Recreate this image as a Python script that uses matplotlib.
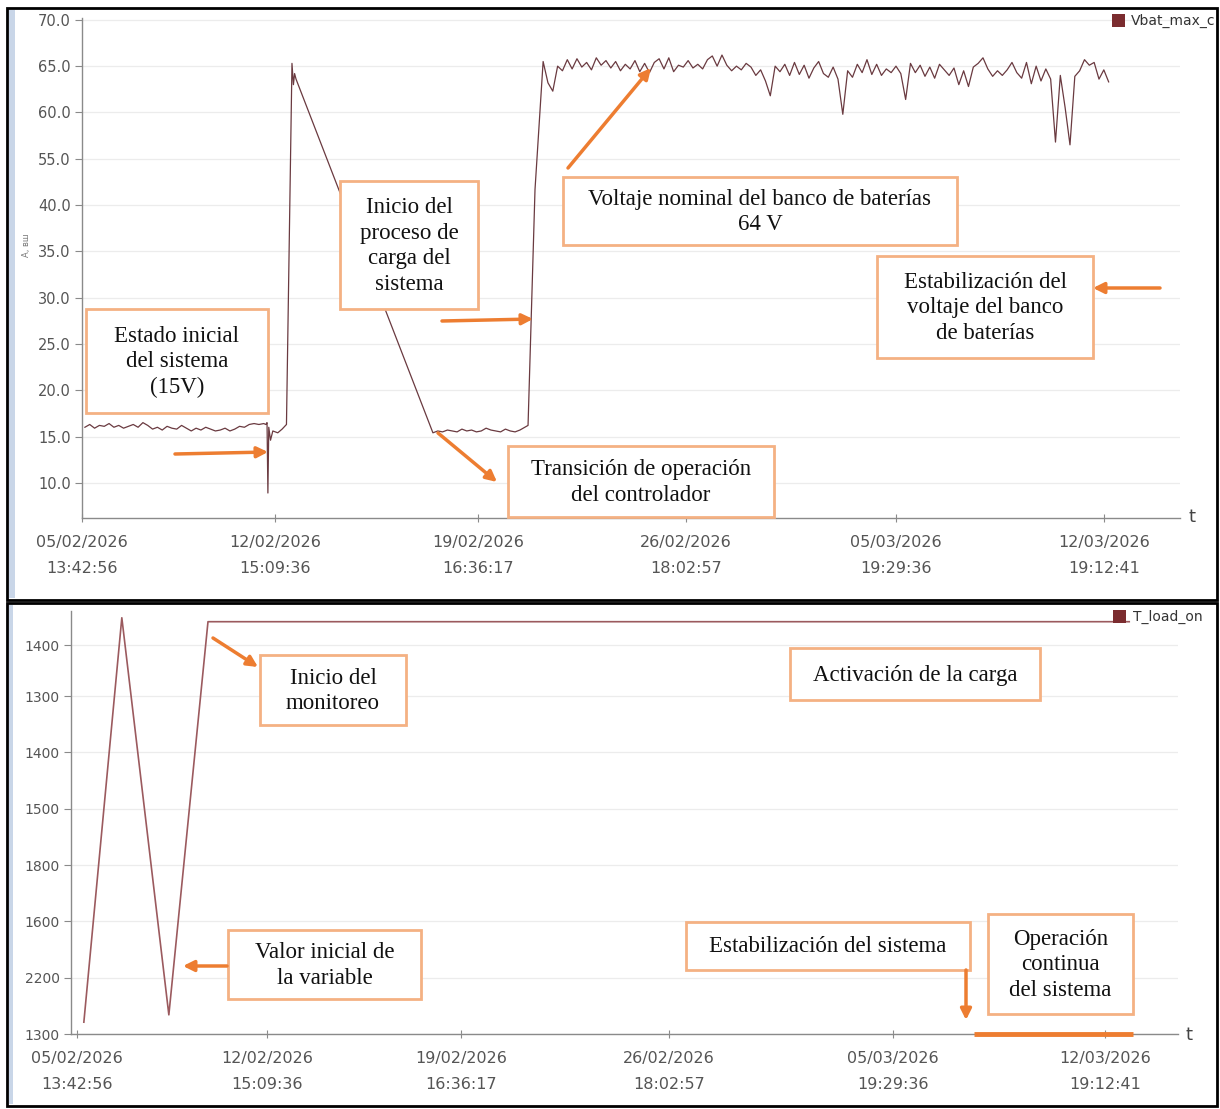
import numpy as np
import matplotlib
matplotlib.use("Agg")
import matplotlib.pyplot as plt
from matplotlib.patches import Rectangle

# ---------------- DATA ----------------
# Top panel: Vbat_max (V), time in days since 05/02/2026 13:42:56
top_xtick_labels = ["05/02/2026\n13:42:56", "12/02/2026\n15:09:36", "19/02/2026\n16:36:17",
                    "26/02/2026\n18:02:57", "05/03/2026\n19:29:36", "12/03/2026\n19:12:41"]
top_xtick_days = [0.0, 6.66, 13.66, 20.83, 28.07, 35.24]
top_ytick_values = [70, 65, 60, 55, 40, 35, 30, 25, 20, 15, 10]
top_ytick_labels = ["70.0", "65.0", "60.0", "55.0", "40.0", "35.0", "30.0", "25.0", "20.0", "15.0", "10.0"]

sample_step_days = 1.0 / 6.0   # logger sample every 4 h

seg1_start = 0.10
seg1_vals = [16.0, 16.3, 15.9, 16.2, 16.1, 16.4, 16.0, 16.2, 15.9, 16.1, 16.3, 16.0, 16.5, 16.2,
             15.8, 16.0, 15.7, 16.1, 15.9, 15.8, 16.2, 15.9, 15.6, 15.9, 15.7, 16.0, 15.8, 15.6,
             15.7, 15.9, 15.6, 15.8, 16.1, 16.0, 16.3, 16.4, 16.3, 16.4]

event_days = [6.34, 6.38, 6.41, 6.44, 6.50, 6.58, 6.75, 6.90, 7.05, 7.24, 7.29, 7.33, 7.38, 12.10]
event_vals = [16.3, 16.5, 8.9, 16.0, 14.6, 15.6, 15.4, 15.8, 16.3, 65.3, 63.0, 64.2, 63.6, 15.4]

seg2_start = 12.10
seg2_vals = [15.4, 15.6, 15.5, 15.7, 15.6, 15.5, 15.8, 15.6, 15.7, 15.5, 15.6, 15.9, 15.7, 15.6,
             15.5, 15.8, 15.6, 15.5, 15.7, 16.0]

rise_days = [15.38, 15.62]
rise_vals = [16.2, 45.0]

seg3_start = 15.90
seg3_vals = [65.5, 63.2, 62.3, 65.0, 64.5, 65.7, 64.7, 65.8, 64.9, 65.4, 64.6, 65.9, 65.1, 65.6,
             64.8, 65.5, 64.5, 65.2, 64.7, 65.6, 64.4, 65.3, 64.3, 65.4, 65.8, 64.7, 65.9, 64.4,
             65.1, 64.9, 65.6, 64.8, 65.2, 64.7, 65.7, 66.1, 65.0, 66.2, 65.1, 64.5, 65.0, 64.6,
             65.3, 64.9, 64.0, 64.6, 63.4, 61.8, 65.0, 64.4, 65.2, 64.0, 65.4, 64.1, 65.1, 63.7,
             64.8, 65.5, 64.2, 63.8, 64.9, 63.6, 59.8, 64.5, 63.8, 65.2, 64.3, 65.7, 64.1, 65.2,
             64.0, 64.7, 64.3, 65.0, 64.2, 61.4, 65.3, 64.3, 65.1, 63.9, 64.9, 63.7, 65.2, 64.6,
             64.0, 64.8, 63.0, 64.5, 62.8, 64.9, 65.3, 65.9, 64.7, 63.9, 64.5, 64.0, 64.6, 65.4,
             64.3, 63.7, 65.4, 63.1, 65.0, 63.4, 64.7, 63.6, 56.8, 64.0, 60.5, 56.5, 63.9, 64.5,
             65.7, 65.1, 65.4, 63.6, 64.6, 63.3]

# Bottom panel: T_load_on (axis level units), time in days
bot_xtick_labels = top_xtick_labels
bot_xtick_days = [0.0, 6.51, 13.15, 20.27, 27.95, 35.21]
bot_ytick_levels = [0, 1, 2, 3, 4, 5, 6, 6.9]
bot_ytick_labels = ["1300", "2200", "1600", "1800", "1500", "1400", "1300", "1400"]
bot_days = [0.24, 1.54, 3.15, 4.49, 36.03]
bot_vals = [0.21, 7.39, 0.34, 7.32, 7.32]

# ---------------- BUILD SERIES ----------------
def seg(start, vals):
    return [start + i * sample_step_days for i in range(len(vals))]

top_t = seg(seg1_start, seg1_vals) + event_days + seg(seg2_start, seg2_vals)[1:] + rise_days + seg(seg3_start, seg3_vals)
top_v = seg1_vals + event_vals + seg2_vals[1:] + rise_vals + seg3_vals

# piecewise scale matching the labelled ticks (55 -> 40 gap)
_kv = [-100.0, 40.0, 55.0, 200.0]
_kp = [-100.0, 40.0, 45.0, 190.0]
def fwd(v):
    return np.interp(v, _kv, _kp)
def inv(p):
    return np.interp(p, _kp, _kv)

# ---------------- FIGURE ----------------
W, H = 1220, 1109
fig = plt.figure(figsize=(W / 100, H / 100), dpi=100)
fig.patch.set_facecolor("white")

tick_col = "#555555"
spine_col = "#8a8a8a"
grid_col = "#ececec"

def px_axes(x0, y0, x1, y1):
    return fig.add_axes([x0 / W, 1 - y1 / H, (x1 - x0) / W, (y1 - y0) / H])

def style(ax):
    for s in ["top", "right"]:
        ax.spines[s].set_visible(False)
    for s in ["left", "bottom"]:
        ax.spines[s].set_color(spine_col)
        ax.spines[s].set_linewidth(1.0)
    ax.tick_params(axis="y", colors=spine_col, labelcolor=tick_col, length=5, direction="out", pad=3)
    ax.tick_params(axis="x", colors=spine_col, labelcolor=tick_col, length=6, direction="inout", pad=9)
    ax.grid(axis="y", color=grid_col, lw=0.9)
    ax.set_axisbelow(True)

# top axes
ax1 = px_axes(82, 18, 1180, 518)
ax1.set_yscale("function", functions=(fwd, inv))
ax1.plot(top_t, top_v, color="#6a3a40", lw=0.9)
ax1.set_xlim(0, 37.86)
ax1.set_ylim(6.2, 70.2)
ax1.set_yticks(top_ytick_values)
ax1.set_yticklabels(top_ytick_labels, fontsize=10.5)
ax1.yaxis.set_minor_locator(matplotlib.ticker.NullLocator())
ax1.set_xticks(top_xtick_days)
ax1.set_xticklabels(top_xtick_labels, fontsize=11.5, linespacing=1.95)
style(ax1)

# bottom axes
ax2 = px_axes(71, 611, 1178, 1034)
ax2.plot(bot_days, bot_vals, color="#9b5a5e", lw=1.2)
ax2.set_xlim(-0.2, 37.7)
ax2.set_ylim(0, 7.51)
ax2.set_yticks(bot_ytick_levels)
ax2.set_yticklabels(bot_ytick_labels, fontsize=10)
ax2.set_xticks(bot_xtick_days)
ax2.set_xticklabels(bot_xtick_labels, fontsize=11.5, linespacing=1.95)
style(ax2)

# ---------------- OVERLAY (pixel coordinates) ----------------
ov = fig.add_axes([0, 0, 1, 1], zorder=10)
ov.set_xlim(0, W)
ov.set_ylim(H, 0)
ov.axis("off")
ov.patch.set_alpha(0)

# frames
ov.add_patch(Rectangle((7, 8), 1210, 592, fill=False, ec="black", lw=2))
ov.add_patch(Rectangle((7, 603), 1210, 503, fill=False, ec="black", lw=2))
ov.add_patch(Rectangle((9, 10), 6, 588, fc="#c9d6e8", ec="none"))
ov.add_patch(Rectangle((9, 605), 4, 499, fc="#c9d6e8", ec="none"))

# legends
ov.add_patch(Rectangle((1112, 14), 13, 13, fc="#7b2c2f", ec="none"))
ov.text(1131, 21, "Vbat_max_c", fontsize=10, color="#333333", va="center", ha="left", clip_on=True)
ov.add_patch(Rectangle((1113, 610), 13, 13, fc="#7b2c2f", ec="none"))
ov.text(1133, 617, "T_load_on", fontsize=10, color="#333333", va="center", ha="left")

# axis 't' labels and small y label
ov.text(1192, 517, "t", fontsize=13, color="#444444", va="center", ha="center")
ov.text(1189, 1035, "t", fontsize=13, color="#444444", va="center", ha="center")
ov.text(27, 245, "A, вш", fontsize=6, color="#777777", rotation=90, va="center", ha="center")

orange = "#ed7d31"
box_ec = "#f4b183"

def box(x0, y0, x1, y1, text, fs=16.5):
    ov.add_patch(Rectangle((x0, y0), x1 - x0, y1 - y0, fc="white", ec=box_ec, lw=2))
    ov.text((x0 + x1) / 2, (y0 + y1) / 2 + 1, text, ha="center", va="center", fontsize=fs,
            family="Liberation Serif", linespacing=1.28, color="#111111")

def arrow(xs, ys, xe, ye):
    ov.annotate("", xy=(xe, ye), xytext=(xs, ys),
                arrowprops=dict(arrowstyle="-|>", color=orange, lw=2.5, mutation_scale=16,
                                shrinkA=0, shrinkB=0))

# top annotations
box(86, 309, 268, 413, "Estado inicial\ndel sistema\n(15V)")
box(340, 181, 478, 309, "Inicio del\nproceso de\ncarga del\nsistema")
box(563, 177, 957, 245, "Voltaje nominal del banco de baterías\n64 V")
box(877, 256, 1093, 358, "Estabilización del\nvoltaje del banco\nde baterías")
box(508, 446, 774, 517, "Transición de operación\ndel controlador")
arrow(175, 454, 268, 452)
arrow(442, 321, 533, 319)
arrow(438, 433, 497, 482)
arrow(568, 168, 651, 68)
arrow(1160, 288, 1093, 288)

# bottom annotations
box(260, 655, 406, 725, "Inicio del\nmonitoreo")
box(790, 648, 1040, 700, "Activación de la carga")
box(228, 930, 421, 999, "Valor inicial de\nla variable")
box(686, 922, 970, 970, "Estabilización del sistema")
box(988, 914, 1133, 1014, "Operación\ncontinua\ndel sistema")
arrow(213, 638, 258, 667)
arrow(227, 966, 183, 966)
arrow(966, 970, 966, 1020)
ov.plot([974, 1133], [1034, 1034], color=orange, lw=3.5, solid_capstyle="butt")

fig.savefig("out.png", dpi=100, facecolor="white")
